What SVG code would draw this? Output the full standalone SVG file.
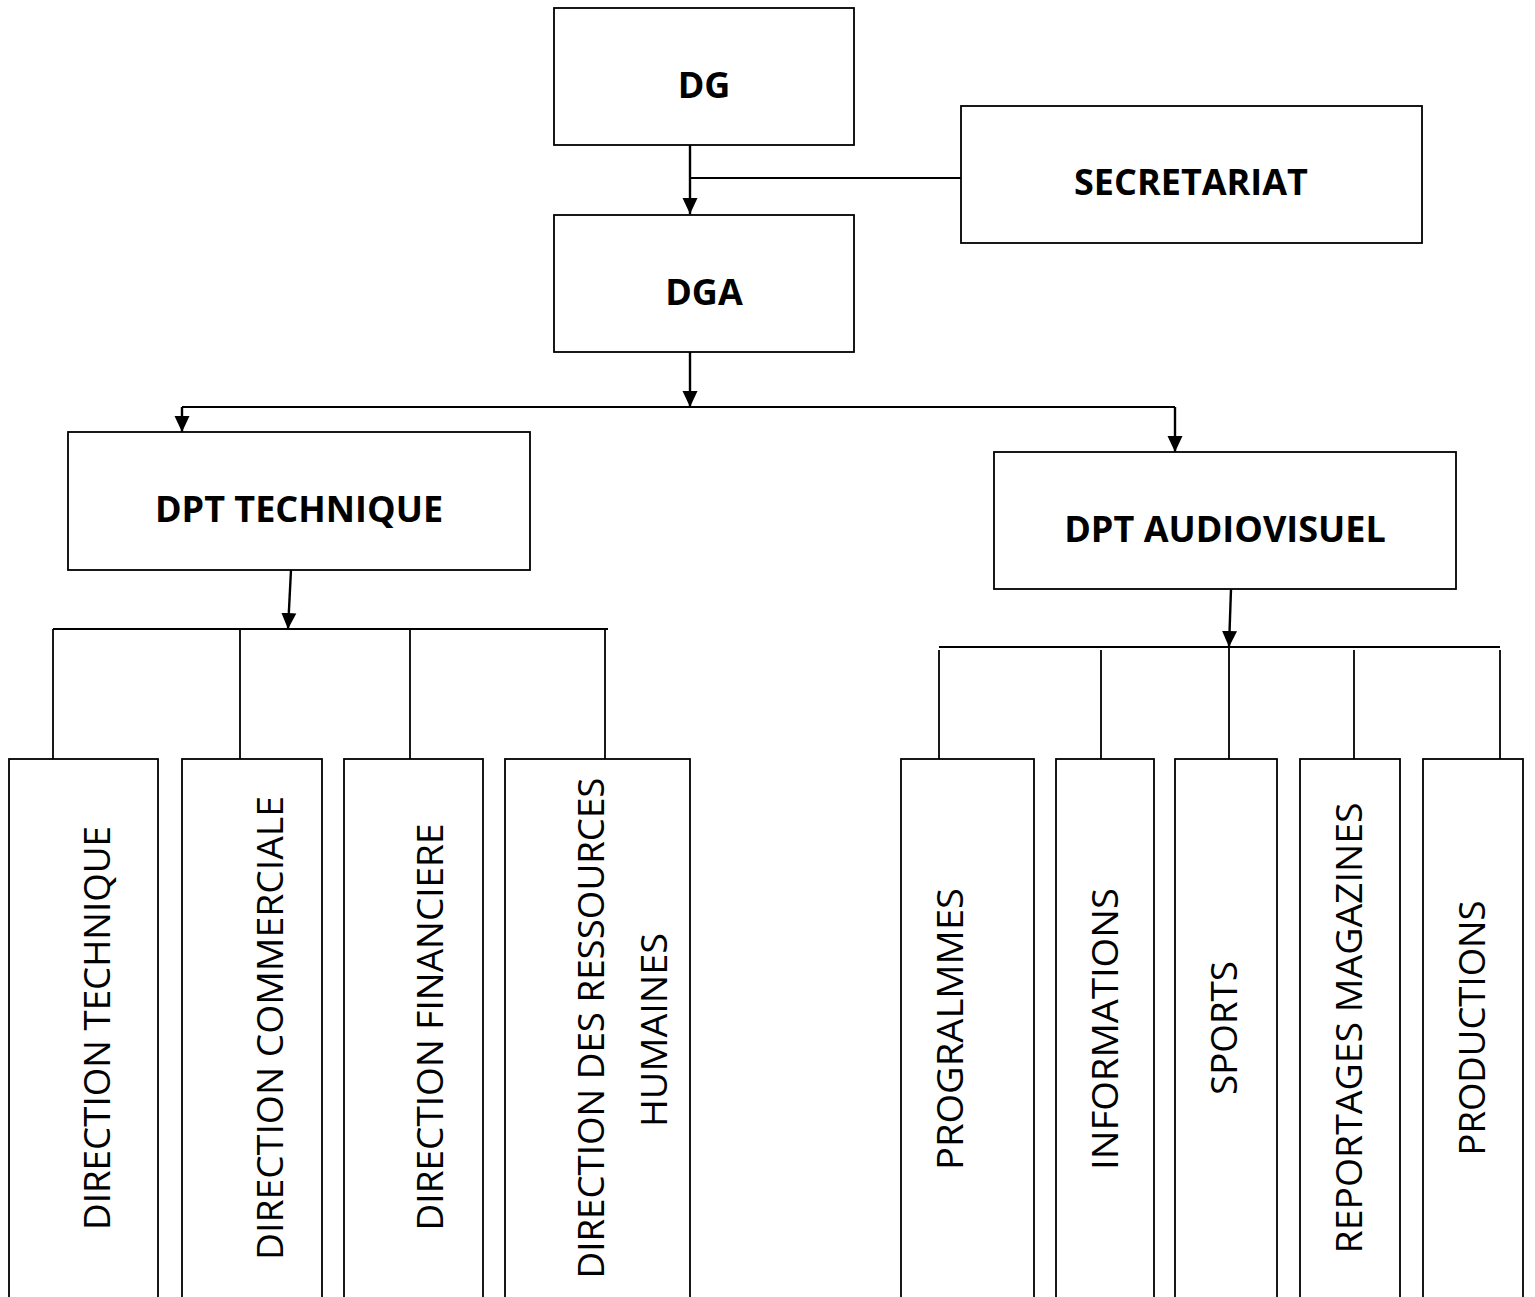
<svg xmlns="http://www.w3.org/2000/svg" width="1535" height="1297" viewBox="0 0 1535 1297">
<style>
.box{fill:#fff;stroke:#000;stroke-width:1.8}
.ln{fill:none;stroke:#000;stroke-width:1.8}
.ar{fill:none;stroke:#000;stroke-width:2.4;marker-end:url(#ah)}
.b{font-family:"Open Sans","Liberation Sans",sans-serif;font-weight:bold;font-size:36px;text-anchor:middle;fill:#000}
.v{font-family:"Open Sans","Liberation Sans",sans-serif;font-size:37px;text-anchor:middle;fill:#000}
</style>
<defs>
<marker id="ah" markerUnits="userSpaceOnUse" markerWidth="16" markerHeight="16" refX="16" refY="8" orient="auto">
<path d="M0,0.5 L16,8 L0,15.5 z" fill="#000"/>
</marker>
</defs>
<rect width="1535" height="1297" fill="#fff"/>
<g id="connectors">
<line class="ar" x1="690" y1="145" x2="690" y2="214"/>
<line class="ln" x1="690" y1="178" x2="961" y2="178"/>
<line class="ar" x1="690" y1="352" x2="690" y2="407"/>
<line class="ln" x1="182" y1="407" x2="1175" y2="407"/>
<line class="ar" x1="182" y1="407" x2="182" y2="432"/>
<line class="ar" x1="1175" y1="407" x2="1175" y2="452"/>
<line class="ar" x1="291" y1="570" x2="288" y2="629"/>
<line class="ln" x1="53" y1="629" x2="608" y2="629"/>
<line class="ln" x1="53" y1="629" x2="53" y2="759"/>
<line class="ln" x1="240" y1="629" x2="240" y2="759"/>
<line class="ln" x1="410" y1="629" x2="410" y2="759"/>
<line class="ln" x1="605" y1="629" x2="605" y2="759"/>
<line class="ar" x1="1231" y1="589" x2="1229" y2="647"/>
<line class="ln" x1="939" y1="647" x2="1500" y2="647"/>
<line class="ln" x1="939" y1="650" x2="939" y2="759"/>
<line class="ln" x1="1101" y1="650" x2="1101" y2="759"/>
<line class="ln" x1="1229" y1="647" x2="1229" y2="759"/>
<line class="ln" x1="1354" y1="650" x2="1354" y2="759"/>
<line class="ln" x1="1500" y1="650" x2="1500" y2="759"/>
</g>
<g id="dg"><rect class="box" x="554" y="8" width="300" height="137"/><text class="b" x="704" y="98">DG</text></g>
<g id="secretariat"><rect class="box" x="961" y="106" width="461" height="137"/><text class="b" x="1191" y="195">SECRETARIAT</text></g>
<g id="dga"><rect class="box" x="554" y="215" width="300" height="137"/><text class="b" x="704" y="305">DGA</text></g>
<g id="dpt-technique"><rect class="box" x="68" y="432" width="462" height="138"/><text class="b" x="299" y="522">DPT TECHNIQUE</text></g>
<g id="dpt-audiovisuel"><rect class="box" x="994" y="452" width="462" height="137"/><text class="b" x="1225" y="542">DPT AUDIOVISUEL</text></g>
<g id="direction-technique"><rect class="box" x="9" y="759" width="149" height="560"/><text class="v" transform="translate(110,1028) rotate(-90)" textLength="404" lengthAdjust="spacingAndGlyphs">DIRECTION TECHNIQUE</text></g>
<g id="direction-commerciale"><rect class="box" x="182" y="759" width="140" height="560"/><text class="v" transform="translate(283,1028) rotate(-90)" textLength="464" lengthAdjust="spacingAndGlyphs">DIRECTION COMMERCIALE</text></g>
<g id="direction-financiere"><rect class="box" x="344" y="759" width="139" height="560"/><text class="v" transform="translate(443,1027) rotate(-90)" textLength="407" lengthAdjust="spacingAndGlyphs">DIRECTION FINANCIERE</text></g>
<g id="direction-rh"><rect class="box" x="505" y="759" width="185" height="560"/><text class="v" transform="translate(604,1028) rotate(-90)" textLength="501" lengthAdjust="spacingAndGlyphs">DIRECTION DES RESSOURCES</text><text class="v" transform="translate(667,1030) rotate(-90)" textLength="194" lengthAdjust="spacingAndGlyphs">HUMAINES</text></g>
<g id="programmes"><rect class="box" x="901" y="759" width="133" height="560"/><text class="v" transform="translate(963,1029) rotate(-90)" textLength="282" lengthAdjust="spacingAndGlyphs">PROGRALMMES</text></g>
<g id="informations"><rect class="box" x="1056" y="759" width="98" height="560"/><text class="v" transform="translate(1118,1029) rotate(-90)" textLength="282" lengthAdjust="spacingAndGlyphs">INFORMATIONS</text></g>
<g id="sports"><rect class="box" x="1175" y="759" width="102" height="560"/><text class="v" transform="translate(1237,1028) rotate(-90)" textLength="134" lengthAdjust="spacingAndGlyphs">SPORTS</text></g>
<g id="reportages"><rect class="box" x="1300" y="759" width="100" height="560"/><text class="v" transform="translate(1362,1028) rotate(-90)" textLength="451" lengthAdjust="spacingAndGlyphs">REPORTAGES MAGAZINES</text></g>
<g id="productions"><rect class="box" x="1423" y="759" width="100" height="560"/><text class="v" transform="translate(1485,1028) rotate(-90)" textLength="255" lengthAdjust="spacingAndGlyphs">PRODUCTIONS</text></g>
</svg>
